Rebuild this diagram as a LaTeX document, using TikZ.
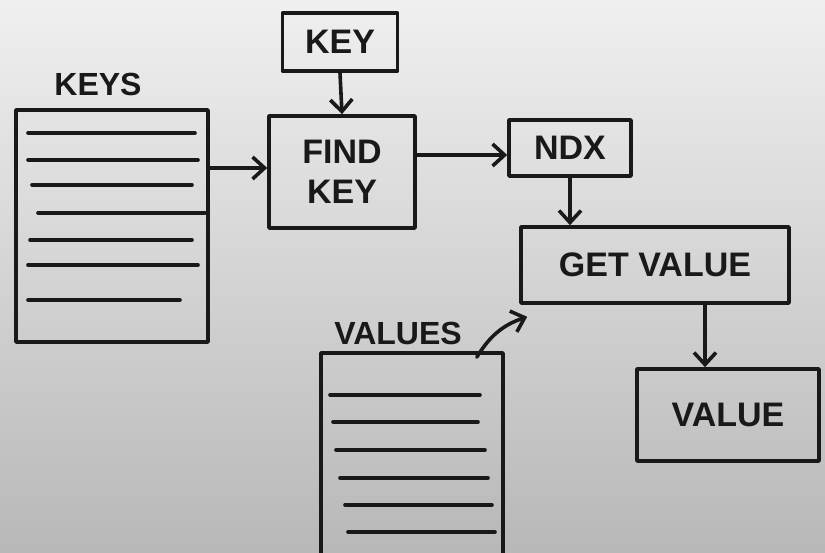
\documentclass[tikz,border=0pt]{standalone}
\usepackage{fontspec}
\setmainfont{Liberation Sans}
\usetikzlibrary{arrows.meta,calc}
\tikzset{
  ink/.style={draw=black!90, line width=3.6pt, line cap=round, line join=round},
  stepbox/.style={ink, rectangle, inner sep=0pt, font=\fontsize{34}{40}\selectfont\bfseries, text=black!90, align=center},
  listbox/.style={ink, rectangle, inner sep=0pt},
  lbl/.style={font=\fontsize{32}{38}\selectfont\bfseries, text=black!90},
  arr/.style={ink, -{Straight Barb[length=12pt,width=22pt,line width=3.6pt]}},
  row/.style={ink}
}
\begin{document}
\begin{tikzpicture}[x=1pt,y=-1pt]
\shade[shading angle=135, top color=white!94!black, bottom color=white!72!black] (0,0) rectangle (825,553);
\useasboundingbox (0,0) rectangle (825,553);
% keys list
\node[lbl] (keyslbl) at (98,84) {KEYS};
\node[listbox, minimum width=192pt, minimum height=232pt] (keys) at (112,226) {};
\foreach \y/\a/\b in {133/28/195, 160/28/198, 185/32/192, 213/38/205, 240/30/192, 265/28/198, 300/28/180}
  \draw[row] (\a,\y) -- (\b,\y);
% key
\node[stepbox, minimum width=115pt, minimum height=58pt] (key) at (340,42) {KEY};
% find key
\node[stepbox, minimum width=146pt, minimum height=112pt] (find) at (342,172) {FIND\\KEY};
% ndx
\node[stepbox, minimum width=122pt, minimum height=56pt] (ndx) at (570,148) {NDX};
% get value
\node[stepbox, minimum width=268pt, minimum height=76pt] (get) at (655,265) {GET VALUE};
% values list
\node[lbl] (valslbl) at (398,333) {VALUES};
\node[listbox, minimum width=182pt, minimum height=230pt] (vals) at (412,468) {};
\foreach \y/\a/\b in {395/330/480, 422/333/478, 450/336/485, 478/340/488, 505/345/492, 532/348/495}
  \draw[row] (\a,\y) -- (\b,\y);
% value
\node[stepbox, minimum width=182pt, minimum height=92pt] (value) at (728,415) {VALUE};
% connectors
\draw[arr] (keys.east |- 0,168) -- (find.west |- 0,168);
\draw[arr] (key.south) -- (find.north);
\draw[arr] (find.east |- 0,155) -- (ndx.west |- 0,155);
\draw[arr] (ndx.south) -- (get.north -| ndx.south);
\draw[arr] ($(vals.north east)+(-28,6)$) to[bend left=20] ($(get.south west)+(8,12)$);
\draw[arr] (get.south -| 705,0) -- (value.north -| 705,0);
\end{tikzpicture}
\end{document}
